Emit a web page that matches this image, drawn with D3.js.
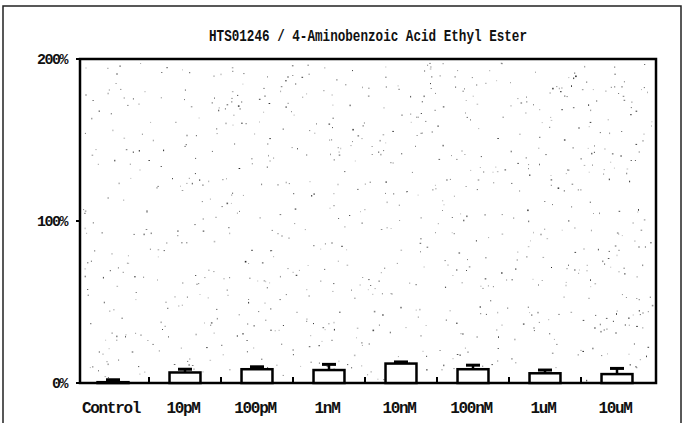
<!DOCTYPE html>
<html><head><meta charset="utf-8">
<script src="https://cdn.jsdelivr.net/npm/d3@7"></script>
<style>
html,body{margin:0;padding:0;background:#fff;}
text{font-family:"Liberation Mono","DejaVu Sans Mono",monospace;font-weight:bold;fill:#111;}
</style></head>
<body><svg id="c" width="688" height="423"></svg>
<script>
const title = "HTS01246 / 4-Aminobenzoic Acid Ethyl Ester";
const categories = ["Control","10pM","100pM","1nM","10nM","100nM","1uM","10uM"];
const means  = [0.5, 6.5, 8.5, 8, 12, 8.5, 6, 5.5];
const errors = [1.5, 2, 1.5, 3.5, 1, 2.5, 2, 3.5];
const yTicks = [0, 100, 200];
const yTickLabels = ["0%", "100%", "200%"];

const svg = d3.select("#c");
const L = 80, R = 656, T = 59, B = 383;

// outer frame
svg.append("rect").attr("x",3).attr("y",6).attr("width",678).attr("height",430)
  .attr("fill","none").attr("stroke","#222").attr("stroke-width",1.5);

const y = d3.scaleLinear().domain([0,200]).range([B,T]);
const x = d3.scaleBand().domain(categories).range([L-3, R-3]).paddingInner(0.57).paddingOuter(0.285);

// speckle texture (deterministic)
let s = 12345;
function rnd(){ s = (s*1103515245 + 12345) % 2147483648; return s/2147483648; }
const sp = svg.append("g");
for (let i=0;i<900;i++){
  const px = L+3+rnd()*(R-L-6), py = T+3+rnd()*(B-T-6);
  const a = 0.25+rnd()*0.6;
  sp.append("rect").attr("x",px.toFixed(1)).attr("y",py.toFixed(1))
    .attr("width",rnd()<0.2?1.6:1).attr("height",rnd()<0.2?1.6:1)
    .attr("fill","#000").attr("opacity",a.toFixed(2));
}

// plot frame
svg.append("rect").attr("x",L).attr("y",T).attr("width",R-L).attr("height",B-T)
  .attr("fill","none").attr("stroke","#000").attr("stroke-width",2.5);

// y axis ticks + labels
const ya = svg.append("g");
yTicks.forEach((v,i)=>{
  ya.append("line").attr("x1",L-4).attr("x2",L).attr("y1",y(v)).attr("y2",y(v))
    .attr("stroke","#000").attr("stroke-width",2);
  ya.append("text").attr("x",67).attr("y",y(v)).attr("dy","0.35em")
    .attr("text-anchor","end").style("font-size","15px").attr("letter-spacing","-1.5")
    .text(yTickLabels[i]);
});

// x axis separator ticks
const step = x.step();
categories.slice(1).forEach(c=>{
  const xp = x(c) - x.paddingInner()*step/2;
  svg.append("line").attr("x1",xp).attr("x2",xp).attr("y1",B).attr("y2",B-6)
    .attr("stroke","#000").attr("stroke-width",2);
});

// x labels
categories.forEach(c=>{
  svg.append("text").attr("x",x(c)+x.bandwidth()/2-2).attr("y",407).attr("dy","0.35em")
    .attr("text-anchor","middle").style("font-size","16px").attr("letter-spacing","-1.3")
    .text(c);
});

// bars
const g = svg.append("g");
categories.forEach((c,i)=>{
  const bx = x(c), bw = x.bandwidth();
  const top = y(means[i]);
  const et = y(means[i]+errors[i]);
  const cx = bx+bw/2;
  g.append("line").attr("x1",cx).attr("x2",cx).attr("y1",top).attr("y2",et)
    .attr("stroke","#000").attr("stroke-width",2.5);
  g.append("line").attr("x1",cx-7).attr("x2",cx+7).attr("y1",et).attr("y2",et)
    .attr("stroke","#000").attr("stroke-width",3);
  g.append("rect").attr("x",bx).attr("y",top).attr("width",bw).attr("height",Math.max(0,B-top))
    .attr("fill","#fff").attr("stroke","#000").attr("stroke-width",2.5);
});

// title
svg.append("text").attr("x",(L+R)/2).attr("y",35).attr("dy","0.35em")
  .attr("text-anchor","middle").style("font-size","17px")
  .attr("textLength",318).attr("lengthAdjust","spacingAndGlyphs")
  .text(title);
</script></body></html>
